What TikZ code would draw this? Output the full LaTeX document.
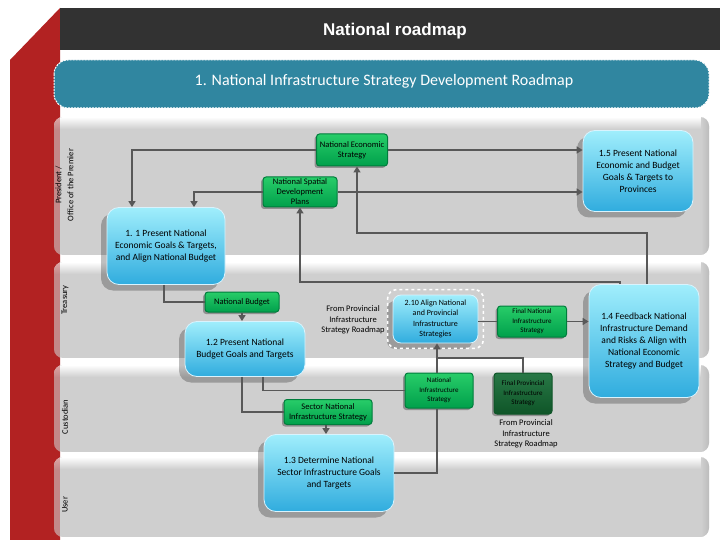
\documentclass[tikz,border=0pt]{standalone}
\usepackage{fontspec}
\setmainfont{Carlito}
\newfontfamily\arialfont{Liberation Sans}
\usetikzlibrary{arrows.meta,shadows,fit}

\definecolor{lanegray}{RGB}{207,207,207}
\definecolor{laneedge}{RGB}{188,188,188}
\definecolor{redbar}{RGB}{178,34,34}
\definecolor{headbar}{RGB}{50,50,50}
\definecolor{bannerteal}{RGB}{48,134,160}
\definecolor{bluetop}{RGB}{160,238,252}
\definecolor{bluebot}{RGB}{48,172,222}
\definecolor{greentop}{RGB}{40,205,105}
\definecolor{greenbot}{RGB}{0,160,75}
\definecolor{greenedge}{RGB}{0,125,60}
\definecolor{dgreentop}{RGB}{40,120,70}
\definecolor{dgreenbot}{RGB}{15,85,40}
\definecolor{linegray}{RGB}{88,88,88}

\tikzset{
  bluebox/.style={draw=white!85!cyan, line width=0.8pt, rounded corners=12pt,
    top color=bluetop, bottom color=bluebot, align=center, inner sep=0pt,
    font=\fontsize{9.5}{12}\selectfont,
    drop shadow={shadow xshift=-6pt, shadow yshift=-6pt, opacity=0.25, fill=black}},
  greenbox/.style={draw=greenedge, line width=1pt, rounded corners=3pt,
    top color=greentop, bottom color=greenbot, align=center, inner sep=0pt,
    font=\fontsize{8.5}{10}\selectfont,
    drop shadow={shadow xshift=-2pt, shadow yshift=-2pt, opacity=0.3, fill=black}},
  smallgreen/.style={greenbox, font=\fontsize{7}{9.5}\selectfont},
  darkgreen/.style={smallgreen, draw=dgreenbot, top color=dgreentop, bottom color=dgreenbot},
  notetext/.style={align=center, font=\fontsize{8.5}{10.5}\selectfont, inner sep=0pt},
  lanelabel/.style={rotate=90, align=center, font=\fontsize{8.5}{12}\selectfont, inner sep=0pt},
  conn/.style={draw=linegray, line width=1.8pt},
  arr/.style={conn, -{Triangle[length=6pt,width=7pt]}}
}

\newcommand\mylane[2]{%
  \begin{scope}
    \clip[rounded corners=9pt] (54,#1) rectangle (709,#2);
    \fill[lanegray] (54,#1) rectangle (709,#2);
    \shade[top color=white, bottom color=lanegray] (54,#1) rectangle (709,#1+12);
    \shade[left color=lanegray, right color=laneedge] (701,#1) rectangle (709,#2);
    \fill[redbar, opacity=0.4] (54,#1) rectangle (60,#2);
  \end{scope}}

\begin{document}
\begin{tikzpicture}[x=1pt, y=-1pt]
\useasboundingbox[fill=white] (0,0) rectangle (720,540);

% red side bar and header
\fill[redbar] (10,60) -- (60,8) -- (60,540) -- (10,540) -- cycle;
\fill[headbar] (60,8) rectangle (720,50);
\node[text=white, font=\arialfont\bfseries\fontsize{17}{20}\selectfont] (title) at (395,31) {National roadmap};

% banner
\filldraw[fill=bannerteal, draw=white, line width=1pt, dash pattern=on 2pt off 1pt, rounded corners=14pt]
  (54,60) rectangle (709,108);
\node[text=white, font=\fontsize{16}{19}\selectfont] (banner) at (384,81) {1. National Infrastructure Strategy Development Roadmap};

% lanes
\mylane{117}{255}
\mylane{262}{358}
\mylane{365}{452}
\mylane{457}{537}

\node[lanelabel] (lab1) at (64.5,185) {President /\\Office of the Premier};
\node[lanelabel] (lab2) at (65,300) {Treasury};
\node[lanelabel] (lab3) at (65,417) {Custodian};
\node[lanelabel] (lab4) at (65,505) {User};

% nodes
\node[greenbox, minimum width=71, minimum height=32] (nes) at (352,150) {National Economic\\Strategy};
\node[greenbox, minimum width=74, minimum height=30] (nsdp) at (300,192) {National Spatial\\Development\\Plans};
\node[bluebox, minimum width=118, minimum height=77] (n11) at (166,246) {1. 1 Present National\\Economic Goals \& Targets,\\and Align National Budget};
\node[bluebox, minimum width=110, minimum height=81] (n15) at (638,171) {1.5 Present National\\Economic and Budget\\Goals \& Targets to\\Provinces};
\node[greenbox, minimum width=74, minimum height=20] (nb) at (242,302) {National Budget};
\node[bluebox, minimum width=120, minimum height=55] (n12) at (245,349) {1.2 Present National\\Budget Goals and Targets};
\node[greenbox, minimum width=88, minimum height=25] (snis) at (328,412) {Sector National\\Infrastructure Strategy};
\node[bluebox, minimum width=130, minimum height=77] (n13) at (329,473) {1.3 Determine National\\Sector Infrastructure Goals\\and Targets};
\node[bluebox, rounded corners=8pt, minimum width=85, minimum height=48, font=\fontsize{8}{10.5}\selectfont] (n210) at (435.5,319) {2.10 Align National\\and Provincial\\Infrastructure\\Strategies};
\node[draw=white, dashed, line width=1.6pt, rounded corners=9pt, inner sep=5pt, fit=(n210)] (n210frame) {};
\node[smallgreen, minimum width=69, minimum height=31] (fnis) at (532,321.5) {Final National\\Infrastructure\\Strategy};
\node[bluebox, minimum width=110, minimum height=113] (n14) at (644,341) {1.4 Feedback National\\Infrastructure Demand\\and Risks \& Align with\\National Economic\\Strategy and Budget};
\node[smallgreen, minimum width=68, minimum height=35] (nis) at (439,390.5) {National\\Infrastructure\\Strategy};
\node[darkgreen, minimum width=58, minimum height=41] (fpis) at (523,393.5) {Final Provincial\\Infrastructure\\Strategy};
\node[notetext] (froma) at (353,320) {From Provincial\\Infrastructure\\Strategy Roadmap};
\node[notetext] (fromb) at (526,434) {From Provincial\\Infrastructure\\Strategy Roadmap};

% helper coordinates
\coordinate (c1) at (647,233);
\coordinate (c2) at (620,282);
\coordinate (c3) at (437,358);

% connectors
\draw[arr] (nes.west) -| ([xshift=-34pt]n11.north);
\draw[arr] (nsdp.west) -| ([xshift=28pt]n11.north);
\draw[arr] (nes.east) -- (nes.east -| n15.west);
\draw[arr] (nsdp.east) -- (nsdp.east -| n15.west);
\draw[arr] (n14.north -| c1) -- (c1) -| ([xshift=5pt]nes.south);
\draw[arr] (n14.north -| c2) -- (c2) -| (nsdp.south);
\draw[conn] ([xshift=-2pt]n11.south) |- (nb.west);
\draw[arr] (nb.south) -- (nb.south |- n12.north);
\draw[conn] (n12.south -| nb.south) |- (snis.west);
\draw[conn] ([xshift=18pt]n12.south) |- (nis.west);
\draw[arr] ([xshift=-2pt]snis.south) -- ([xshift=-2pt]snis.south |- n13.north);
\draw[conn] (n13.east) -| ([xshift=-2pt]nis.south);
\draw[arr] ([xshift=-2pt]nis.north) -- ([xshift=-2pt]nis.north |- n210.south);
\draw[conn] (fpis.north) |- (c3);
\draw[conn] (fnis.west -| n210.east) -- (fnis.west);
\draw[arr] (fnis.east) -- (fnis.east -| n14.west);
\end{tikzpicture}
\end{document}
